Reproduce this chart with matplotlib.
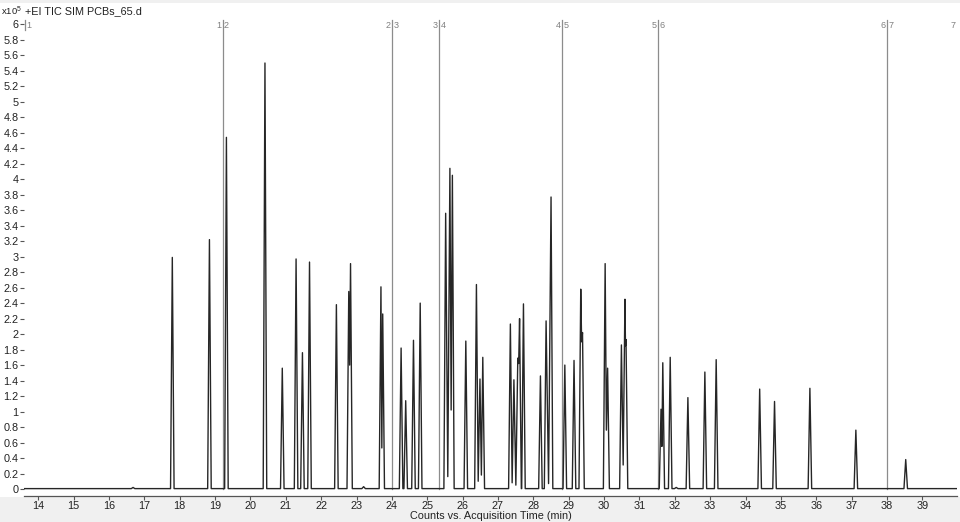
import matplotlib
matplotlib.use("Agg")
import matplotlib.pyplot as plt
from matplotlib.patches import Rectangle
from matplotlib.ticker import FixedLocator, FuncFormatter

plt.rcParams["font.family"] = ["Liberation Sans", "DejaVu Sans"]
plt.rcParams["mathtext.default"] = "regular"

# ---- data (time in min, counts in 1e5) ----
peak_t = [16.68, 17.79, 18.84, 19.32, 20.41, 20.90, 21.29, 21.47, 21.67,
          22.43, 22.78, 22.83, 23.20, 23.69, 23.74, 24.26, 24.39, 24.61,
          24.80, 25.52, 25.64, 25.71, 26.09, 26.39, 26.49, 26.57, 27.35,
          27.45, 27.56, 27.61, 27.72, 28.20, 28.36, 28.50, 28.89, 29.15,
          29.34, 29.39, 30.03, 30.10, 30.49, 30.59, 30.62, 31.61, 31.66,
          31.87, 32.04, 32.37, 32.85, 33.17, 34.40, 34.82, 35.82, 37.12,
          38.53]
peak_h = [0.02, 2.99, 3.22, 4.54, 5.50, 1.56, 2.97, 1.76, 2.93,
          2.38, 2.55, 2.91, 0.03, 2.61, 2.26, 1.82, 1.14, 1.92,
          2.40, 3.56, 4.14, 4.05, 1.91, 2.64, 1.42, 1.70, 2.13,
          1.41, 1.69, 2.20, 2.39, 1.46, 2.17, 3.77, 1.60, 1.66,
          2.58, 2.02, 2.91, 1.56, 1.86, 2.45, 1.93, 1.03, 1.63,
          1.70, 0.02, 1.18, 1.51, 1.67, 1.29, 1.13, 1.30, 0.76,
          0.38]
# level between a peak and the next one when they are not resolved
# (None = trace returns to the baseline)
valley = [None, None, None, None, None, None, None, None, None,
          None, 1.60, None, None, 0.53, None, None, None, None,
          None, 0.16, 1.02, None, None, 0.10, 0.18, None, 0.08,
          0.05, 1.62, None, None, None, 0.07, None, None, None,
          1.90, None, 0.76, None, 0.31, 1.85, None, 0.55, None,
          None, None, None, None, None, None, None, None, None,
          None]
baseline = 0.005

# acquisition segments
seg_t = [19.21, 24.00, 25.33, 28.82, 31.52, 38.00]

x_ticks = list(range(14, 40))
y_ticks = [round(0.2 * i, 1) for i in range(31)]

XMIN, XMAX = 13.596, 39.98
HW = 0.05  # half width of a peak foot

# ---- build the trace ----
xs, ys = [XMIN], [baseline]
for i, (t, h) in enumerate(zip(peak_t, peak_h)):
    if i == 0 or valley[i - 1] is None:
        xs.append(t - HW)
        ys.append(baseline)
    xs.append(t)
    ys.append(h)
    if valley[i] is None:
        xs.append(t + HW)
        ys.append(baseline)
    else:
        xs.append((t + peak_t[i + 1]) / 2)
        ys.append(valley[i])
xs.append(XMAX)
ys.append(baseline)

W, H = 960, 522
fig = plt.figure(figsize=(W / 100, H / 100), dpi=100)
fig.patch.set_facecolor("white")
fig.patches.append(Rectangle((0, 0), 1, 1 - 497 / H, transform=fig.transFigure,
                             facecolor="#f0f0f0", edgecolor="none", zorder=-10))
fig.patches.append(Rectangle((0, 1 - 3 / H), 1, 3 / H, transform=fig.transFigure,
                             facecolor="#f0f0f0", edgecolor="none", zorder=-10))

ax = fig.add_axes([24 / W, 1 - 496 / H, (957 - 24) / W, (496 - 17) / H])
ax.set_facecolor("white")
ax.plot(xs, ys, color="#262626", lw=1.0, zorder=3)

ax.set_xlim(XMIN, XMAX)
ax.set_ylim(-0.0904, 6.094)

# segment markers
for k, t in enumerate(seg_t):
    ax.plot([t, t], [0, 6.05], color="#8c8c8c", lw=0.9, zorder=2)
    ax.text(t - 0.04, 5.99, str(k + 1), color="#808080", fontsize=6.5,
            ha="right", va="center")
    ax.text(t + 0.04, 5.99, str(k + 2), color="#808080", fontsize=6.5,
            ha="left", va="center")
ax.plot([XMIN + 0.02, XMIN + 0.02], [5.92, 6.05], color="#8c8c8c", lw=0.9)
ax.text(XMIN + 0.06, 5.99, "1", color="#808080", fontsize=6.5,
        ha="left", va="center")
ax.text(XMAX - 0.05, 5.99, "7", color="#808080", fontsize=6.5,
        ha="right", va="center")

for s in ("top", "right", "left"):
    ax.spines[s].set_visible(False)
ax.spines["bottom"].set_color("#555555")
ax.spines["bottom"].set_linewidth(0.9)

ax.xaxis.set_major_locator(FixedLocator(x_ticks))
ax.yaxis.set_major_locator(FixedLocator(y_ticks))
ax.yaxis.set_major_formatter(FuncFormatter(lambda v, p: f"{v:g}"))
ax.tick_params(axis="both", labelsize=7.8, colors="#555555",
               labelcolor="#222222", length=3, width=0.8, pad=1.5)
ax.tick_params(axis="x", pad=0.5)
ax.tick_params(axis="y", pad=1)

ax.set_xlabel("Counts vs. Acquisition Time (min)", fontsize=7.8,
              color="#222222", labelpad=0)

fig.text(25 / W, 1 - 11 / H, "+EI TIC SIM PCBs_65.d", fontsize=7.8,
         color="#222222", ha="left", va="center")
fig.text(1 / W, 1 - 11 / H, "x10$^{5}$", fontsize=6.8, color="#222222",
         ha="left", va="center")

fig.savefig("out.png", dpi=100)
